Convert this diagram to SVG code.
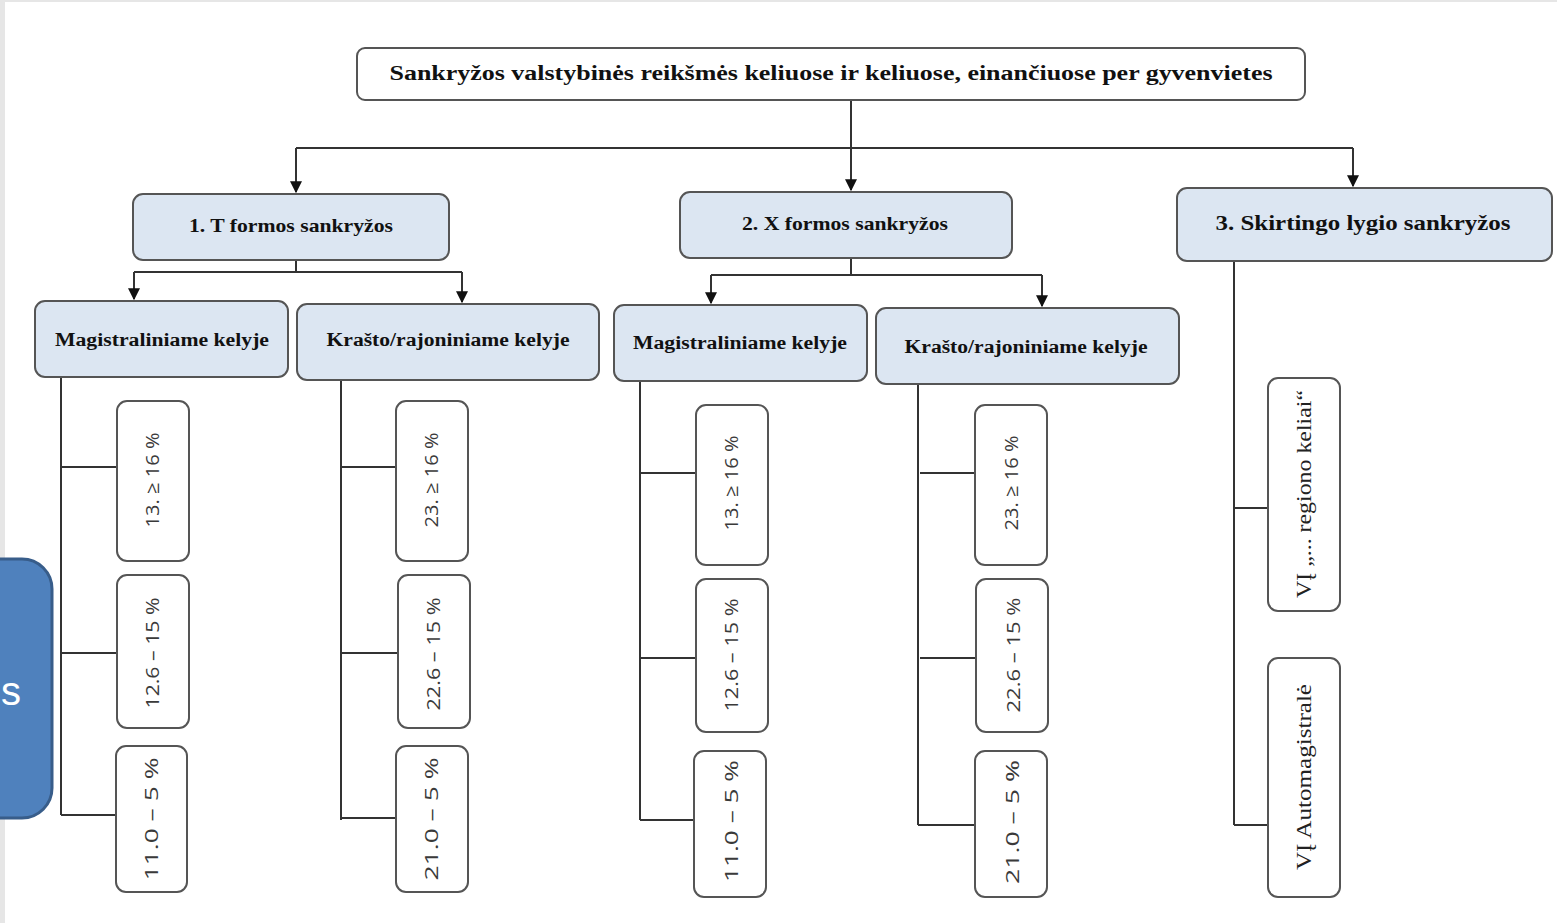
<svg xmlns="http://www.w3.org/2000/svg" width="1557" height="923" viewBox="0 0 1557 923">
  <style>
    .bg { fill: #ffffff; }
    .frame { fill: #e6e6e6; }
    .top { fill: #ffffff; stroke: #555; stroke-width: 2; }
    .cat { fill: #dce6f2; stroke: #555; stroke-width: 2; }
    .leaf { fill: #ffffff; stroke: #555; stroke-width: 2; }
    .wire { fill: none; stroke: #333; stroke-width: 2; }
    .arrow { fill: none; stroke: #333; stroke-width: 2; marker-end: url(#head); }
    .title { font-family: "Liberation Serif", "DejaVu Serif", serif; font-weight: bold; fill: #111; text-anchor: middle; }
    .pct { font-family: "Open Sans", "Noto Sans", "Liberation Sans", sans-serif; font-size: 19px; fill: #3a3a3a; text-anchor: middle; }
    .org { font-family: "Liberation Serif", "DejaVu Serif", serif; font-size: 21px; fill: #222; text-anchor: middle; }
  </style>
  <defs>
    <marker id="head" viewBox="0 0 10 10" refX="9" refY="5" markerWidth="6" markerHeight="6" markerUnits="strokeWidth" orient="auto">
      <path d="M0,0 L10,5 L0,10 z" fill="#111"/>
    </marker>
  </defs>

  <rect class="bg" x="0" y="0" width="1557" height="923"/>
  <rect class="frame" x="0" y="0" width="5" height="923"/>
  <rect class="frame" x="0" y="0" width="1557" height="2"/>

  <!-- side tab -->
  <g id="side-tab">
    <rect x="-40" y="559" width="92" height="259" rx="30" fill="#4f81bd" stroke="#385d8a" stroke-width="3"/>
    <text x="1" y="705" font-family="Liberation Sans, sans-serif" font-size="40" fill="#ffffff">s</text>
  </g>

  <!-- connectors -->
  <g id="connectors">
    <path class="wire" d="M851,100 V148 M296,148 H1353"/>
    <path class="arrow" d="M296,148 V192"/>
    <path class="arrow" d="M851,148 V190"/>
    <path class="arrow" d="M1353,148 V186"/>

    <path class="wire" d="M296,260 V272 M134,272 H462"/>
    <path class="arrow" d="M134,272 V299"/>
    <path class="arrow" d="M462,272 V302"/>

    <path class="wire" d="M851,258 V275 M711,275 H1042"/>
    <path class="arrow" d="M711,275 V303"/>
    <path class="arrow" d="M1042,275 V306"/>

    <path class="wire" d="M61,377 V815 M61,467 H117 M61,653 H117 M61,815 H116"/>
    <path class="wire" d="M341,380 V820 M341,467 H396 M341,653 H398 M341,818 H396"/>
    <path class="wire" d="M640,381 V820 M640,473 H696 M640,658 H696 M640,820 H694"/>
    <path class="wire" d="M918,384 V825 M920,473 H975 M920,658 H976 M918,825 H975"/>
    <path class="wire" d="M1234,261 V825 M1234,508 H1268 M1234,825 H1268"/>
  </g>

  <!-- root -->
  <g id="root">
    <rect class="top" x="357" y="48" width="948" height="52" rx="8"/>
    <text class="title" x="831" y="80" font-size="20" textLength="883" lengthAdjust="spacingAndGlyphs">Sankryžos valstybinės reikšmės keliuose ir keliuose, einančiuose per gyvenvietes</text>
  </g>

  <!-- level 1 -->
  <g id="t-shape">
    <rect class="cat" x="133" y="194" width="316" height="66" rx="10"/>
    <text class="title" x="291" y="232" font-size="19" textLength="204" lengthAdjust="spacingAndGlyphs">1. T formos sankryžos</text>
  </g>
  <g id="x-shape">
    <rect class="cat" x="680" y="192" width="332" height="66" rx="10"/>
    <text class="title" x="845" y="230" font-size="19" textLength="206" lengthAdjust="spacingAndGlyphs">2. X formos sankryžos</text>
  </g>
  <g id="grade-separated">
    <rect class="cat" x="1177" y="188" width="375" height="73" rx="10"/>
    <text class="title" x="1363" y="230" font-size="21" textLength="295" lengthAdjust="spacingAndGlyphs">3. Skirtingo lygio sankryžos</text>
  </g>

  <!-- level 2 -->
  <g id="t-main">
    <rect class="cat" x="35" y="301" width="253" height="76" rx="10"/>
    <text class="title" x="162" y="346" font-size="18" textLength="214" lengthAdjust="spacingAndGlyphs">Magistraliniame kelyje</text>
  </g>
  <g id="t-regional">
    <rect class="cat" x="297" y="304" width="302" height="76" rx="10"/>
    <text class="title" x="448" y="346" font-size="18" textLength="243" lengthAdjust="spacingAndGlyphs">Krašto/rajoniniame kelyje</text>
  </g>
  <g id="x-main">
    <rect class="cat" x="614" y="305" width="253" height="76" rx="10"/>
    <text class="title" x="740" y="349" font-size="18" textLength="214" lengthAdjust="spacingAndGlyphs">Magistraliniame kelyje</text>
  </g>
  <g id="x-regional">
    <rect class="cat" x="876" y="308" width="303" height="76" rx="10"/>
    <text class="title" x="1026" y="353" font-size="18" textLength="243" lengthAdjust="spacingAndGlyphs">Krašto/rajoniniame kelyje</text>
  </g>

  <!-- T-shape, main road -->
  <g id="t-main-13">
    <rect class="leaf" x="117" y="401" width="72" height="160" rx="10"/>
    <text class="pct" transform="translate(159,480) rotate(-90)" textLength="95" lengthAdjust="spacingAndGlyphs">13. ≥ 16 %</text>
  </g>
  <g id="t-main-12">
    <rect class="leaf" x="117" y="575" width="72" height="153" rx="10"/>
    <text class="pct" transform="translate(159,653) rotate(-90)" textLength="111" lengthAdjust="spacingAndGlyphs">12.6 – 15 %</text>
  </g>
  <g id="t-main-11">
    <rect class="leaf" x="116" y="746" width="71" height="146" rx="10"/>
    <text class="pct" transform="translate(158,819) rotate(-90)" textLength="123" lengthAdjust="spacingAndGlyphs">11.0 – 5 %</text>
  </g>

  <!-- T-shape, regional road -->
  <g id="t-reg-23">
    <rect class="leaf" x="396" y="401" width="72" height="160" rx="10"/>
    <text class="pct" transform="translate(438,480) rotate(-90)" textLength="95" lengthAdjust="spacingAndGlyphs">23. ≥ 16 %</text>
  </g>
  <g id="t-reg-22">
    <rect class="leaf" x="398" y="575" width="72" height="153" rx="10"/>
    <text class="pct" transform="translate(440,654) rotate(-90)" textLength="113" lengthAdjust="spacingAndGlyphs">22.6 – 15 %</text>
  </g>
  <g id="t-reg-21">
    <rect class="leaf" x="396" y="746" width="72" height="146" rx="10"/>
    <text class="pct" transform="translate(438,819) rotate(-90)" textLength="123" lengthAdjust="spacingAndGlyphs">21.0 – 5 %</text>
  </g>

  <!-- X-shape, main road -->
  <g id="x-main-13">
    <rect class="leaf" x="696" y="405" width="72" height="160" rx="10"/>
    <text class="pct" transform="translate(738,483) rotate(-90)" textLength="95" lengthAdjust="spacingAndGlyphs">13. ≥ 16 %</text>
  </g>
  <g id="x-main-12">
    <rect class="leaf" x="696" y="579" width="72" height="153" rx="10"/>
    <text class="pct" transform="translate(738,655) rotate(-90)" textLength="113" lengthAdjust="spacingAndGlyphs">12.6 – 15 %</text>
  </g>
  <g id="x-main-11">
    <rect class="leaf" x="694" y="751" width="72" height="146" rx="10"/>
    <text class="pct" transform="translate(738,821) rotate(-90)" textLength="122" lengthAdjust="spacingAndGlyphs">11.0 – 5 %</text>
  </g>

  <!-- X-shape, regional road -->
  <g id="x-reg-23">
    <rect class="leaf" x="975" y="405" width="72" height="160" rx="10"/>
    <text class="pct" transform="translate(1018,483) rotate(-90)" textLength="95" lengthAdjust="spacingAndGlyphs">23. ≥ 16 %</text>
  </g>
  <g id="x-reg-22">
    <rect class="leaf" x="976" y="579" width="72" height="153" rx="10"/>
    <text class="pct" transform="translate(1020,655) rotate(-90)" textLength="115" lengthAdjust="spacingAndGlyphs">22.6 – 15 %</text>
  </g>
  <g id="x-reg-21">
    <rect class="leaf" x="975" y="751" width="72" height="146" rx="10"/>
    <text class="pct" transform="translate(1019,822) rotate(-90)" textLength="124" lengthAdjust="spacingAndGlyphs">21.0 – 5 %</text>
  </g>

  <!-- grade-separated operators -->
  <g id="regional-roads">
    <rect class="leaf" x="1268" y="378" width="72" height="233" rx="10"/>
    <text class="org" transform="translate(1311,494) rotate(-90)" textLength="208" lengthAdjust="spacingAndGlyphs">VĮ „... regiono keliai“</text>
  </g>
  <g id="motorways">
    <rect class="leaf" x="1268" y="658" width="72" height="239" rx="10"/>
    <text class="org" transform="translate(1311,777) rotate(-90)" textLength="186" lengthAdjust="spacingAndGlyphs">VĮ Automagistralė</text>
  </g>
</svg>
